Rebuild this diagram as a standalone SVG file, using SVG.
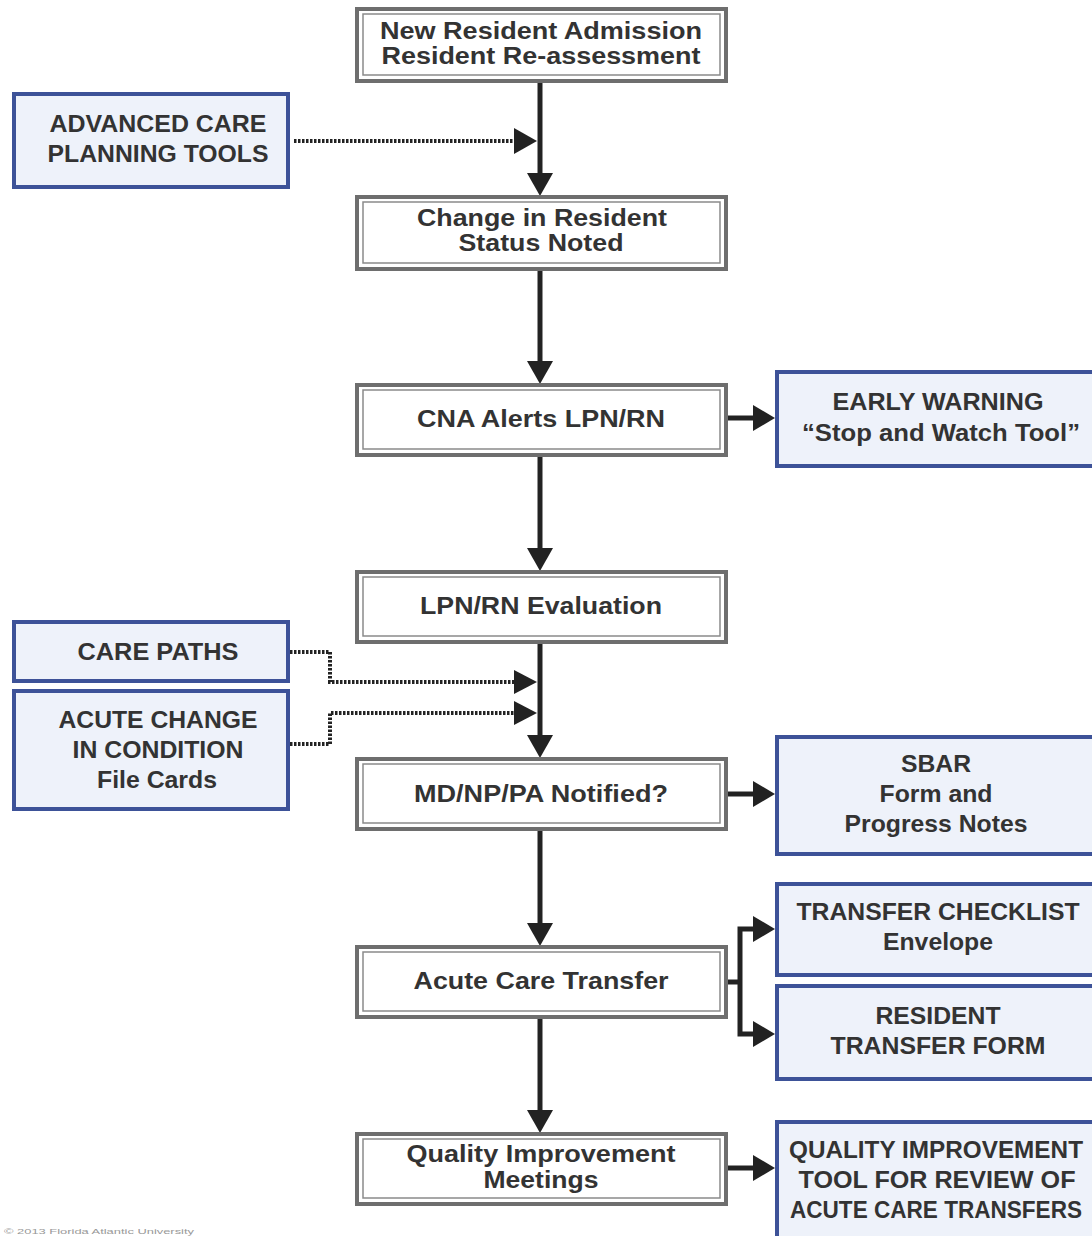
<svg xmlns="http://www.w3.org/2000/svg" width="1092" height="1236" viewBox="0 0 1092 1236">
<style>
.main-o{fill:#fff;stroke:#6e6e6e;stroke-width:4}
.main-i{fill:none;stroke:#8a8a8a;stroke-width:1.5}
.tool{fill:#eef2fa;stroke:#3d5298;stroke-width:4}
.t{font-family:"Liberation Sans",Arial,sans-serif;font-weight:bold;font-size:24px;fill:#333;text-anchor:middle}
.t2{font-size:23px}
.c{stroke:#222;stroke-width:5;fill:none}
.d{stroke:#222;stroke-width:4;fill:none;stroke-dasharray:2.5 1.5}
.ah{fill:#222}
</style>
<rect width="1092" height="1236" fill="#fff"/>
<g id="connectors">
<line class="c" x1="540" y1="82" x2="540" y2="176"/><polygon class="ah" points="527,173 553,173 540,196"/>
<line class="c" x1="540" y1="270" x2="540" y2="364"/><polygon class="ah" points="527,361 553,361 540,384"/>
<line class="c" x1="540" y1="456" x2="540" y2="551"/><polygon class="ah" points="527,548 553,548 540,571"/>
<line class="c" x1="540" y1="643" x2="540" y2="738"/><polygon class="ah" points="527,735 553,735 540,758"/>
<line class="c" x1="540" y1="830" x2="540" y2="926"/><polygon class="ah" points="527,923 553,923 540,946"/>
<line class="c" x1="540" y1="1018" x2="540" y2="1113"/><polygon class="ah" points="527,1110 553,1110 540,1133"/>
<line class="d" x1="294" y1="141" x2="516" y2="141"/><polygon class="ah" points="514,128 514,154 537,141"/>
<polyline class="d" points="290,652 330,652 330,682 516,682"/><polygon class="ah" points="514,670 514,694 537,682"/>
<polyline class="d" points="290,744 330,744 330,713 516,713"/><polygon class="ah" points="514,701 514,725 537,713"/>
<line class="c" x1="728" y1="418" x2="756" y2="418"/><polygon class="ah" points="753,405 753,431 775,418"/>
<line class="c" x1="728" y1="794" x2="756" y2="794"/><polygon class="ah" points="753,781 753,807 775,794"/>
<line class="c" x1="728" y1="1168" x2="756" y2="1168"/><polygon class="ah" points="753,1155 753,1181 775,1168"/>
<line class="c" x1="728" y1="982" x2="741" y2="982"/>
<polyline class="c" points="757,929 740,929 740,1034 757,1034"/>
<polygon class="ah" points="753,916 753,942 775,929"/><polygon class="ah" points="753,1021 753,1047 775,1034"/>
</g>
<g id="n1"><rect class="main-o" x="357" y="9" width="369" height="72"/><rect class="main-i" x="363" y="14" width="357" height="61"/>
<text class="t t2" x="541" y="39" textLength="322" lengthAdjust="spacingAndGlyphs">New Resident Admission</text><text class="t t2" x="541" y="64" textLength="319" lengthAdjust="spacingAndGlyphs">Resident Re-assessment</text></g>
<g id="n2"><rect class="main-o" x="357" y="197" width="369" height="72"/><rect class="main-i" x="363" y="202" width="357" height="61"/>
<text class="t t2" x="542" y="226" textLength="250" lengthAdjust="spacingAndGlyphs">Change in Resident</text><text class="t t2" x="541" y="251" textLength="165" lengthAdjust="spacingAndGlyphs">Status Noted</text></g>
<g id="n3"><rect class="main-o" x="357" y="385" width="369" height="70"/><rect class="main-i" x="363" y="390" width="357" height="59"/>
<text class="t" x="541" y="427" textLength="248" lengthAdjust="spacingAndGlyphs">CNA Alerts LPN/RN</text></g>
<g id="n4"><rect class="main-o" x="357" y="572" width="369" height="70"/><rect class="main-i" x="363" y="577" width="357" height="59"/>
<text class="t" x="541" y="614" textLength="242" lengthAdjust="spacingAndGlyphs">LPN/RN Evaluation</text></g>
<g id="n5"><rect class="main-o" x="357" y="759" width="369" height="70"/><rect class="main-i" x="363" y="764" width="357" height="59"/>
<text class="t" x="541" y="802" textLength="254" lengthAdjust="spacingAndGlyphs">MD/NP/PA Notified?</text></g>
<g id="n6"><rect class="main-o" x="357" y="947" width="369" height="70"/><rect class="main-i" x="363" y="952" width="357" height="59"/>
<text class="t" x="541" y="989" textLength="255" lengthAdjust="spacingAndGlyphs">Acute Care Transfer</text></g>
<g id="n7"><rect class="main-o" x="357" y="1134" width="369" height="70"/><rect class="main-i" x="363" y="1139" width="357" height="59"/>
<text class="t t2" x="541" y="1162" textLength="269" lengthAdjust="spacingAndGlyphs">Quality Improvement</text><text class="t t2" x="541" y="1188" textLength="115" lengthAdjust="spacingAndGlyphs">Meetings</text></g>
<g id="advanced"><rect class="tool" x="14" y="94" width="274" height="93"/>
<text class="t" x="158" y="132" textLength="217" lengthAdjust="spacingAndGlyphs">ADVANCED CARE</text><text class="t" x="158" y="162" textLength="221" lengthAdjust="spacingAndGlyphs">PLANNING TOOLS</text></g>
<g id="early"><rect class="tool" x="777" y="372" width="320" height="94"/>
<text class="t" x="938" y="410" textLength="211" lengthAdjust="spacingAndGlyphs">EARLY WARNING</text><text class="t" x="941" y="441" textLength="278" lengthAdjust="spacingAndGlyphs">“Stop and Watch Tool”</text></g>
<g id="carepaths"><rect class="tool" x="14" y="622" width="274" height="59"/>
<text class="t" x="158" y="660" textLength="161" lengthAdjust="spacingAndGlyphs">CARE PATHS</text></g>
<g id="acute"><rect class="tool" x="14" y="691" width="274" height="118"/>
<text class="t" x="158" y="728" textLength="199" lengthAdjust="spacingAndGlyphs">ACUTE CHANGE</text><text class="t" x="158" y="758" textLength="171" lengthAdjust="spacingAndGlyphs">IN CONDITION</text><text class="t" x="157" y="788" textLength="120" lengthAdjust="spacingAndGlyphs">File Cards</text></g>
<g id="sbar"><rect class="tool" x="777" y="737" width="320" height="117"/>
<text class="t" x="936" y="772" textLength="70" lengthAdjust="spacingAndGlyphs">SBAR</text><text class="t" x="936" y="802" textLength="113" lengthAdjust="spacingAndGlyphs">Form and</text><text class="t" x="936" y="832" textLength="183" lengthAdjust="spacingAndGlyphs">Progress Notes</text></g>
<g id="checklist"><rect class="tool" x="777" y="884" width="320" height="91"/>
<text class="t" x="938" y="920" textLength="283" lengthAdjust="spacingAndGlyphs">TRANSFER CHECKLIST</text><text class="t" x="938" y="950" textLength="110" lengthAdjust="spacingAndGlyphs">Envelope</text></g>
<g id="rtf"><rect class="tool" x="777" y="986" width="320" height="93"/>
<text class="t" x="938" y="1024" textLength="125" lengthAdjust="spacingAndGlyphs">RESIDENT</text><text class="t" x="938" y="1054" textLength="215" lengthAdjust="spacingAndGlyphs">TRANSFER FORM</text></g>
<g id="qitool"><rect class="tool" x="777" y="1122" width="320" height="120"/>
<text class="t" x="936" y="1158" textLength="294" lengthAdjust="spacingAndGlyphs">QUALITY IMPROVEMENT</text><text class="t" x="937" y="1188" textLength="277" lengthAdjust="spacingAndGlyphs">TOOL FOR REVIEW OF</text><text class="t" x="936" y="1218" textLength="292" lengthAdjust="spacingAndGlyphs">ACUTE CARE TRANSFERS</text></g>
<text x="4" y="1234" font-family="Liberation Sans,Arial,sans-serif" font-size="8" fill="#999" textLength="190" lengthAdjust="spacingAndGlyphs">© 2013 Florida Atlantic University</text>
</svg>
